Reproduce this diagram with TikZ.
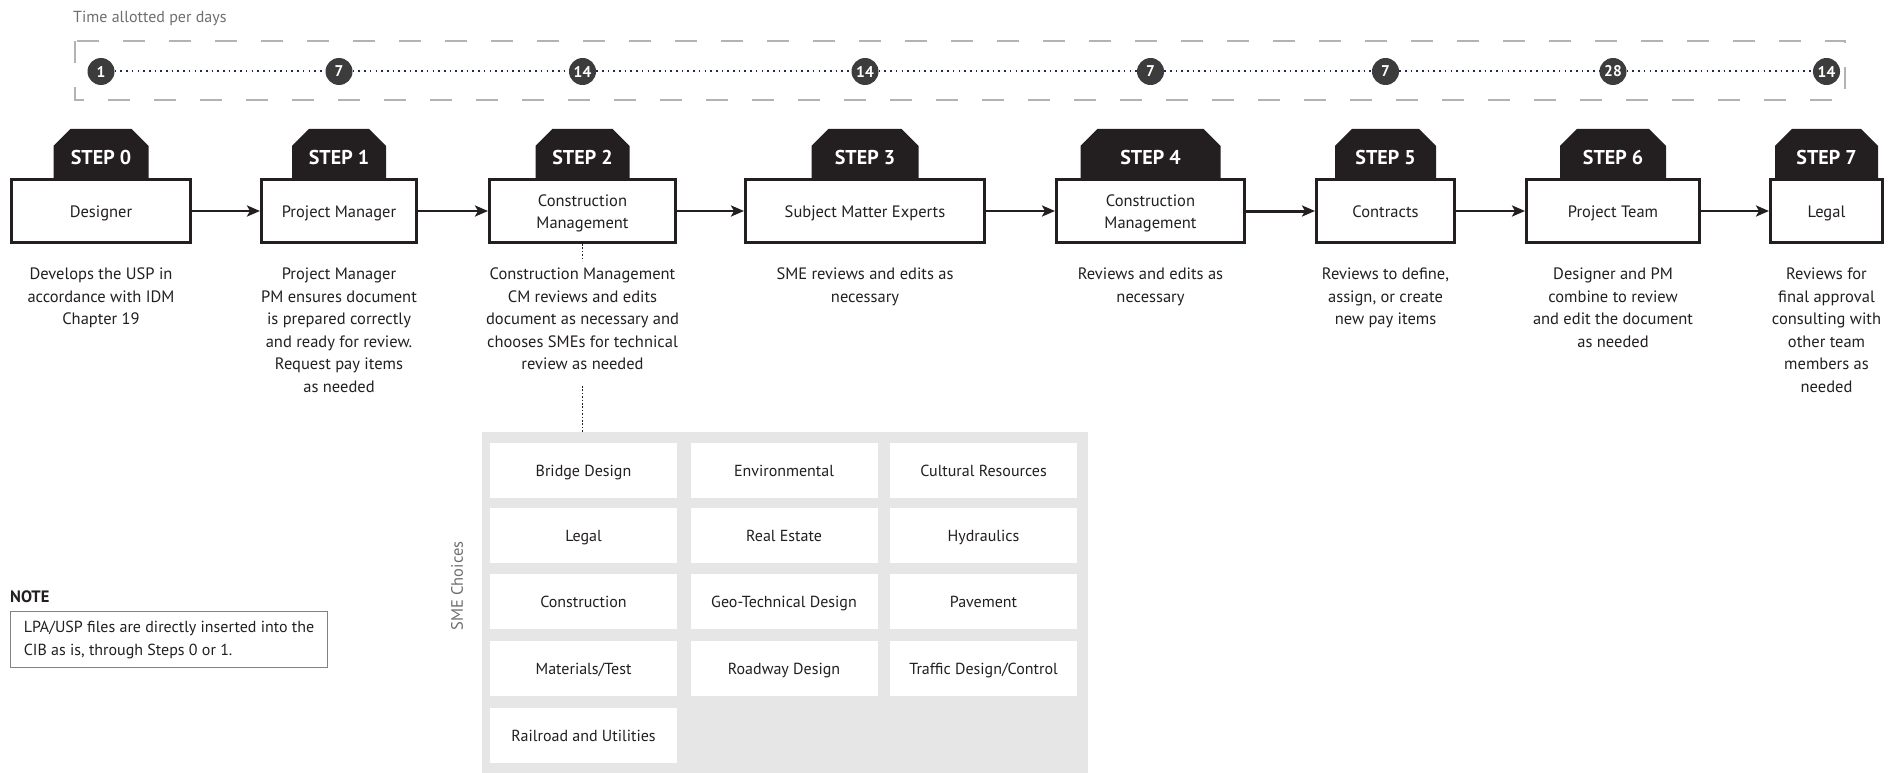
\documentclass[tikz,border=0pt]{standalone}
\usepackage{fontspec}
\setmainfont{PT Sans}
\usetikzlibrary{arrows.meta,shapes.misc,positioning}
\definecolor{ink}{HTML}{231F20}
\definecolor{circ}{HTML}{3C3C3C}
\definecolor{navy}{HTML}{1F2A5C}
\definecolor{dashg}{HTML}{B3B3B3}
\definecolor{panelg}{HTML}{E6E6E6}
\definecolor{labg}{HTML}{6D6E71}
\definecolor{noteg}{HTML}{808285}
\newcommand{\upstrut}{\rule[-4pt]{0pt}{20pt}}
\newcommand{\notestrut}{\rule[-4pt]{0pt}{17pt}}
\newcommand{\tabstrut}{\rule{0pt}{23pt}}
\tikzset{
  box/.style={draw=ink, line width=3pt, fill=white, minimum height=63pt, inner sep=0pt,
    align=center, text=ink, font=\fontsize{16.5}{22}\selectfont},
  tabbox/.style={chamfered rectangle, chamfered rectangle corners={north west,north east},
    chamfered rectangle xsep=8.5pt, chamfered rectangle ysep=8.5pt, fill=ink, text=white,
    font=\bfseries\fontsize{20}{22}\selectfont, minimum height=49pt, inner sep=0pt, anchor=south},
  daycirc/.style={circle, fill=circ, text=white, minimum size=27pt, inner sep=0pt,
    font=\bfseries\fontsize{15.5}{17}\selectfont},
  dotline/.style={navy, line width=2pt, dash pattern=on 1.6pt off 4.1pt},
  desc/.style={align=center, inner sep=0pt, text=ink, font=\fontsize{16.5}{22.5}\selectfont},
  arr/.style={ink, line width=2.5pt, -{Stealth[length=13pt,width=11pt,inset=3pt]}},
  vdots/.style={ink, line width=1.6pt, dash pattern=on 1.6pt off 1.8pt},
  smebox/.style={fill=white, minimum width=187pt, minimum height=55pt, inner sep=0pt,
    text=ink, font=\fontsize{16}{18}\selectfont},
}
\begin{document}
\begin{tikzpicture}[x=1pt,y=-1pt]
\useasboundingbox (0,0) rectangle (1902,773);

% title and dashed timeline frame
\node[anchor=west, inner sep=0pt, text=labg, font=\fontsize{16}{18}\selectfont] (title) at (73,18) {Time allotted per days};
\draw[dashg, line width=1.3pt, dash pattern=on 22pt off 24pt] (75,41) rectangle (1845,100);

% main step boxes
\node[box, minimum width=179pt] (b0) at (101,211) {\upstrut Designer};
\node[box, minimum width=155pt] (b1) at (339,211) {\upstrut Project Manager};
\node[box, minimum width=186pt] (b2) at (582.5,211) {\upstrut Construction\\Management};
\node[box, minimum width=239pt] (b3) at (865,211) {\upstrut Subject Matter Experts};
\node[box, minimum width=188pt] (b4) at (1150.5,211) {\upstrut Construction\\Management};
\node[box, minimum width=138pt] (b5) at (1385.5,211) {\upstrut Contracts};
\node[box, minimum width=173pt] (b6) at (1613,211) {\upstrut Project Team};
\node[box, minimum width=112pt] (b7) at (1826.5,211) {\upstrut Legal};

% step tabs
\node[tabbox, minimum width=95pt] (t0) at (b0.north) {\tabstrut STEP 0};
\node[tabbox, minimum width=94pt] (t1) at (b1.north) {\tabstrut STEP 1};
\node[tabbox, minimum width=94pt] (t2) at (b2.north) {\tabstrut STEP 2};
\node[tabbox, minimum width=107pt] (t3) at (b3.north) {\tabstrut STEP 3};
\node[tabbox, minimum width=140pt] (t4) at (b4.north) {\tabstrut STEP 4};
\node[tabbox, minimum width=101pt] (t5) at (b5.north) {\tabstrut STEP 5};
\node[tabbox, minimum width=106pt] (t6) at (b6.north) {\tabstrut STEP 6};
\node[tabbox, minimum width=103pt] (t7) at (b7.north) {\tabstrut STEP 7};

% day circles
\node[daycirc] (c0) at (b0.center |- 0,71.5) {1};
\node[daycirc] (c1) at (b1.center |- 0,71.5) {7};
\node[daycirc] (c2) at (b2.center |- 0,71.5) {14};
\node[daycirc] (c3) at (b3.center |- 0,71.5) {14};
\node[daycirc] (c4) at (b4.center |- 0,71.5) {7};
\node[daycirc] (c5) at (b5.center |- 0,71.5) {7};
\node[daycirc] (c6) at (b6.center |- 0,71.5) {28};
\node[daycirc] (c7) at (b7.center |- 0,71.5) {14};
\draw[dotline] (c0) -- (c1);
\draw[dotline] (c1) -- (c2);
\draw[dotline] (c2) -- (c3);
\draw[dotline] (c3) -- (c4);
\draw[dotline] (c4) -- (c5);
\draw[dotline] (c5) -- (c6);
\draw[dotline] (c6) -- (c7);

% arrows
\draw[arr] (b0) -- (b1);
\draw[arr] (b1) -- (b2);
\draw[arr] (b2) -- (b3);
\draw[arr] (b3) -- (b4);
\draw[arr, line width=3pt] (b4) -- (b5);
\draw[arr] (b5) -- (b6);
\draw[arr] (b6) -- (b7);

% descriptions
\node[desc, anchor=north] (d0) at (b0.center |- 0,268) {Develops the USP in\\accordance with IDM\\Chapter 19};
\node[desc, anchor=north] (d1) at (b1.center |- 0,268) {Project Manager\\PM ensures document\\is prepared correctly\\and ready for review.\\Request pay items\\as needed};
\node[desc, anchor=north] (d2) at (b2.center |- 0,268) {Construction Management\\CM reviews and edits\\document as necessary and\\chooses SMEs for technical\\review as needed};
\node[desc, anchor=north] (d3) at (b3.center |- 0,268) {SME reviews and edits as\\necessary};
\node[desc, anchor=north] (d4) at (b4.center |- 0,268) {Reviews and edits as\\necessary};
\node[desc, anchor=north] (d5) at (b5.center |- 0,268) {Reviews to define,\\assign, or create\\new pay items};
\node[desc, anchor=north] (d6) at (b6.center |- 0,268) {Designer and PM\\combine to review\\and edit the document\\as needed};
\node[desc, anchor=north] (d7) at (b7.center |- 0,268) {Reviews for\\final approval\\consulting with\\other team\\members as\\needed};

% SME panel
\node[fill=panelg, minimum width=606pt, minimum height=341pt, inner sep=0pt, anchor=north west] (panel) at (482,432) {};
\node[rotate=90, inner sep=0pt, text=labg, font=\fontsize{16.5}{18}\selectfont] (smelbl) at (457,586) {SME Choices};
\node[smebox] (s11) at (583.5,470) {\upstrut Bridge Design};
\node[smebox] (s12) at (784,470) {\upstrut Environmental};
\node[smebox] (s13) at (983.5,470) {\upstrut Cultural Resources};
\node[smebox] (s21) at (583.5,535) {\upstrut Legal};
\node[smebox] (s22) at (784,535) {\upstrut Real Estate};
\node[smebox] (s23) at (983.5,535) {\upstrut Hydraulics};
\node[smebox] (s31) at (583.5,601.5) {\upstrut Construction};
\node[smebox] (s32) at (784,601.5) {\upstrut Geo-Technical Design};
\node[smebox] (s33) at (983.5,601.5) {\upstrut Pavement};
\node[smebox] (s41) at (583.5,668.5) {\upstrut Materials/Test};
\node[smebox] (s42) at (784,668.5) {\upstrut Roadway Design};
\node[smebox] (s43) at (983.5,668.5) {\upstrut Traffic Design/Control};
\node[smebox] (s51) at (583.5,735) {\upstrut Railroad and Utilities};

% dotted connectors of step 2
\draw[vdots] (b2.south) -- (b2.south |- 0,261);
\coordinate (dstart) at (b2.center |- 0,386);
\draw[vdots] (dstart) -- (dstart |- panel.north);

% note
\node[anchor=west, inner sep=0pt, text=ink, font=\bfseries\fontsize{16.5}{18}\selectfont] (notelbl) at (10,597) {NOTE};
\node[draw=noteg, line width=1pt, anchor=north west, minimum width=317pt, minimum height=56pt,
  inner sep=0pt, align=left, text=ink, font=\fontsize{16}{23}\selectfont] (note) at (10,611)
  {\notestrut LPA/USP files are directly inserted into the\\CIB as is, through Steps 0 or 1.};
\end{tikzpicture}
\end{document}
